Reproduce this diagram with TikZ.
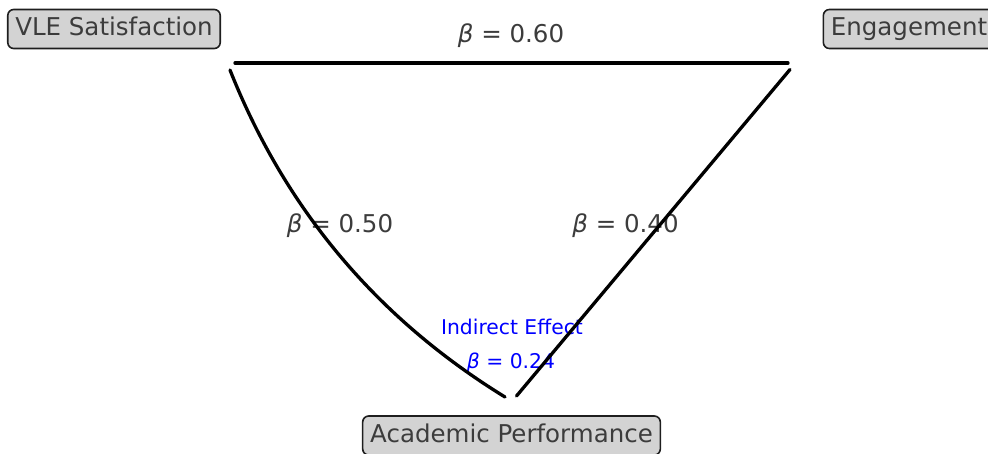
\documentclass[tikz,border=0pt]{standalone}
\usepackage{fontspec}
\setmainfont{DejaVu Sans}
\definecolor{txtgray}{RGB}{60,60,60}
\definecolor{boxfill}{RGB}{211,211,211}
\definecolor{boxedge}{RGB}{30,30,30}
\begin{document}
\begin{tikzpicture}[x=1pt,y=-1pt,
  varbox/.style={draw=boxedge,line width=1.6pt,fill=boxfill,rounded corners=6pt,
    text=txtgray,font=\fontsize{24.5}{28}\selectfont,inner xsep=7.5pt,inner ysep=0pt,
    minimum height=39pt,text height=18pt,text depth=5pt},
  coef/.style={text=txtgray,font=\fontsize{24.5}{28}\selectfont,inner sep=0pt,
    text height=18pt,text depth=5pt},
  indir/.style={text=blue,font=\fontsize{20.3}{24}\selectfont,inner sep=0pt,
    text height=15pt,text depth=4pt},
  path/.style={line width=3.3pt,line cap=round,black}]
\useasboundingbox (0,0) rectangle (988,453);
% variable boxes
\node[varbox] (vle) at (114,29) {VLE Satisfaction};
\node[varbox] (eng) at (909,29) {Engagement};
\node[varbox] (acad) at (511.5,435.5) {Academic Performance};
% coefficient labels
\node[coef] (b1) at (511,35.7) {{\itshape β} = 0.60};
\node[coef] (b2) at (340,226) {{\itshape β} = 0.50};
\node[coef] (b3) at (625.5,226) {{\itshape β} = 0.40};
\node[indir] (ind1) at (512,328.5) {Indirect Effect};
\node[indir] (ind2) at (511,362.6) {{\itshape β} = 0.24};
% connector end points
\coordinate (vleE) at (235,63);
\coordinate (engW) at (788,63);
\coordinate (vleS) at (230,70);
\coordinate (acadL) at (505,397);
\coordinate (engS) at (790,69.5);
\coordinate (acadR) at (516.5,396);
% connectors
\draw[path] (vleE) -- (engW);
\draw[path] (vleS) .. controls (285.3,209.3) and (377,318.3) .. (acadL);
\draw[path] (engS) -- (acadR);
\end{tikzpicture}
\end{document}
